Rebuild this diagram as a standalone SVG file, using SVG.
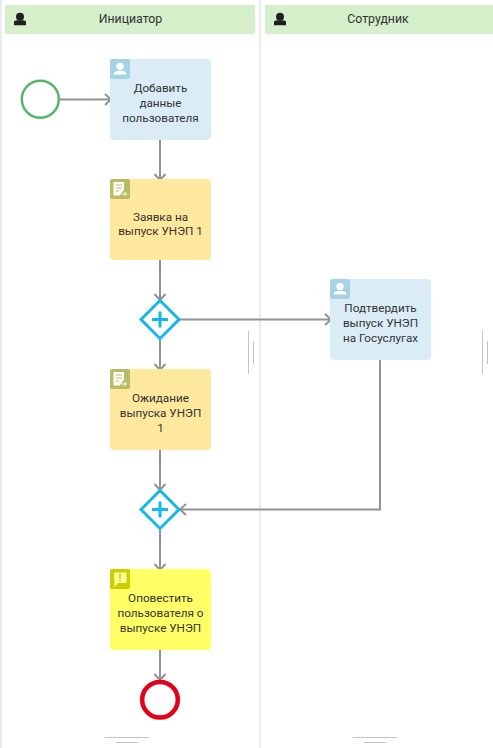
<svg xmlns="http://www.w3.org/2000/svg" width="493" height="748" viewBox="0 0 493 748">
<style>
text{font-family:Roboto,"Liberation Sans",sans-serif;font-size:11.7px;fill:#333;text-anchor:middle}
.t{font-size:12.3px}
.h{fill:#d5efcb}
.user{fill:#daedf6}.form{fill:#fee89e}.note{fill:#ffff66}
.conn{fill:none;stroke:#929292;stroke-width:2}
.gw{fill:#fff;stroke:#13b9ea;stroke-width:3}
.plus{stroke:#13b9ea;stroke-width:3;fill:none}
.sep{stroke:#ececec;stroke-width:2;fill:none}
.g{stroke:#c4c4c4;stroke-width:1;fill:none}
</style>
<defs>
<marker id="a" markerUnits="userSpaceOnUse" markerWidth="14" markerHeight="14" refX="10" refY="7" orient="auto"><path d="M4 1.500 10 7 4 12.500" fill="none" stroke="#929292" stroke-width="2"/></marker>
<g id="person"><circle cx="0" cy="-2.700" r="4" fill="#1f1f1f"/><path d="M-6 5.700V2.700Q-6 .8-3 .8H3Q6 .8 6 2.700V5.700Z" fill="#1f1f1f"/></g>
<g id="uicon"><rect width="20" height="20" rx="2" fill="#a5d2e5"/><circle cx="10" cy="7.500" r="3.700" fill="#fff"/><path d="M3.500 15.500Q3.500 12 8 12H12Q16.500 12 16.500 15.500Z" fill="#fff"/></g>
<g id="ficon"><rect width="20" height="20" rx="2" fill="#b9bb67"/><path d="M3.500 3H14V10.500L9.500 16.500H3.500Z" fill="#fff"/><path d="M5.500 6H12M5.500 9H12M5.500 12H9" stroke="#b9bb67" stroke-width="1.200"/><path d="M11 15H16.500M14.500 13 16.500 15 14.500 17" stroke="#fff" fill="none"/></g>
<g id="nicon"><rect width="20" height="20" rx="2" fill="#cdcd00"/><path d="M4 3.500H16.500V14H8.500L4.500 18Z" fill="#ffff99"/><path d="M10 4.500V10M10 11V12.500" stroke="#cdcd00" stroke-width="1.500"/></g>
</defs>
<rect width="493" height="748" fill="#fff"/>
<g id="lanes">
<path class="sep" d="M1 0V748M260 0V748"/>
<g id="lane-initiator"><rect class="h" x="5" y="5" width="250" height="29"/><use href="#person" x="20" y="19.500"/><text class="t" x="130.500" y="23">Инициатор</text></g>
<g id="lane-employee"><rect class="h" x="265" y="5" width="228" height="29"/><use href="#person" x="280" y="19.500"/><text class="t" x="378" y="23">Сотрудник</text></g>
<path class="g" d="M248.500 331V374M253.500 341V364M482.500 331V374M487.500 341V364M105 737.500H149M116 742.500H138M353 737.500H397M364 742.500H386"/>
</g>
<g id="connectors">
<path class="conn" marker-end="url(#a)" d="M60 99.500H111"/>
<path class="conn" marker-end="url(#a)" d="M160 140V180"/>
<path class="conn" marker-end="url(#a)" d="M160 260V300"/>
<path class="conn" marker-end="url(#a)" d="M160 340V370"/>
<path class="conn" marker-end="url(#a)" d="M180 319.500H331"/>
<path class="conn" marker-end="url(#a)" d="M160 450V490"/>
<path class="conn" marker-end="url(#a)" d="M380 360V509.500H180"/>
<path class="conn" marker-end="url(#a)" d="M160 530V570"/>
<path class="conn" marker-end="url(#a)" d="M160 650V680"/>
</g>
<g id="start"><circle cx="40.300" cy="99.300" r="18.500" fill="#fff" stroke="#55b56a" stroke-width="2.500"/></g>
<g id="add-user"><rect class="user" x="110" y="59" width="101" height="81" rx="4"/><use href="#uicon" x="110" y="59"/><text x="160.500" y="92">Добавить</text><text x="160.500" y="107">данные</text><text x="160.500" y="122">пользователя</text></g>
<g id="request"><rect class="form" x="110" y="179" width="101" height="81" rx="4"/><use href="#ficon" x="110" y="179"/><text x="160.500" y="220.500">Заявка на</text><text x="160.500" y="235">выпуск УНЭП 1</text></g>
<g id="split"><path class="gw" d="M160 300.500 179 319.500 160 338.500 141 319.500Z"/><path class="plus" d="M152 319.500H168M160 311.500V327.500"/></g>
<g id="confirm"><rect class="user" x="330" y="279" width="101" height="81" rx="4"/><use href="#uicon" x="330" y="279"/><text x="380.500" y="312">Подтвердить</text><text x="380.500" y="327">выпуск УНЭП</text><text x="380.500" y="342">на Госуслугах</text></g>
<g id="wait"><rect class="form" x="110" y="369" width="101" height="81" rx="4"/><use href="#ficon" x="110" y="369"/><text x="160.500" y="402">Ожидание</text><text x="160.500" y="417">выпуска УНЭП</text><text x="160.500" y="432">1</text></g>
<g id="join"><path class="gw" d="M160 490.500 179 509.500 160 528.500 141 509.500Z"/><path class="plus" d="M152 509.500H168M160 501.500V517.500"/></g>
<g id="notify"><rect class="note" x="110" y="569" width="101" height="81" rx="4"/><use href="#nicon" x="110" y="569"/><text x="160.500" y="602">Оповестить</text><text x="160.500" y="617">пользователя о</text><text x="160.500" y="632">выпуске УНЭП</text></g>
<g id="end"><circle cx="160" cy="699.700" r="17.800" fill="#fff" stroke="#e2001a" stroke-width="4.500"/></g>
</svg>
